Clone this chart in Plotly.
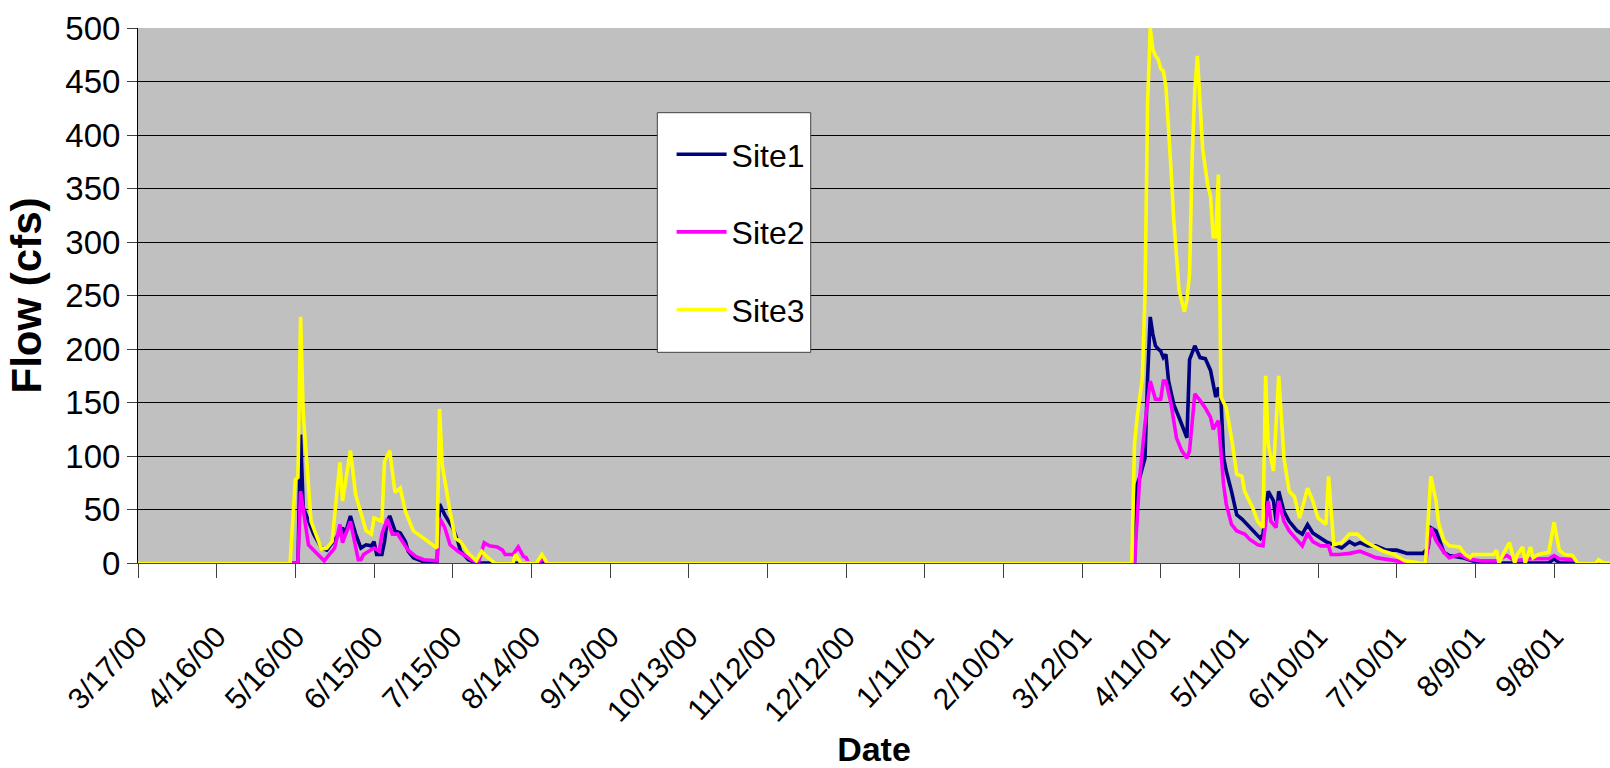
import plotly.graph_objects as go

# ---------------- data ----------------
site1_dates = [
    "2000-03-17", "2000-05-17", "2000-05-18", "2000-05-19", "2000-05-23", "2000-05-26", "2000-05-28",
    "2000-06-01", "2000-06-03", "2000-06-04", "2000-06-06", "2000-06-08", "2000-06-10", "2000-06-12",
    "2000-06-14", "2000-06-15", "2000-06-16", "2000-06-18", "2000-06-19", "2000-06-20", "2000-06-21",
    "2000-06-23", "2000-06-25", "2000-06-27", "2000-06-28", "2000-06-30", "2000-07-03", "2000-07-05",
    "2000-07-09", "2000-07-10", "2000-07-12", "2000-07-15", "2000-07-17", "2000-07-18", "2000-07-21",
    "2000-07-24", "2001-04-01", "2001-04-02", "2001-04-03", "2001-04-05", "2001-04-06", "2001-04-07",
    "2001-04-08", "2001-04-09", "2001-04-10", "2001-04-11", "2001-04-12", "2001-04-13", "2001-04-14",
    "2001-04-15", "2001-04-16", "2001-04-18", "2001-04-20", "2001-04-21", "2001-04-22", "2001-04-24",
    "2001-04-26", "2001-04-28", "2001-04-30", "2001-05-02", "2001-05-03", "2001-05-04", "2001-05-05",
    "2001-05-06", "2001-05-08", "2001-05-10", "2001-05-12", "2001-05-14", "2001-05-16", "2001-05-19",
    "2001-05-20", "2001-05-22", "2001-05-24", "2001-05-25", "2001-05-26", "2001-05-28", "2001-05-30",
    "2001-06-02", "2001-06-04", "2001-06-06", "2001-06-08", "2001-06-11", "2001-06-13", "2001-06-17",
    "2001-06-19", "2001-06-22", "2001-06-24", "2001-06-26", "2001-06-29", "2001-07-02", "2001-07-06",
    "2001-07-10", "2001-07-14", "2001-07-20", "2001-07-22", "2001-07-23", "2001-07-25", "2001-07-28",
    "2001-07-30", "2001-08-04", "2001-08-08", "2001-08-15", "2001-09-06", "2001-09-08", "2001-09-10",
    "2001-09-25",
]
site1_flow = [
    0, 0, 120, 52, 27, 14, 12,
    25, 33, 27, 44, 27, 14, 17,
    16, 20, 8, 8, 20, 39, 44,
    30, 28, 20, 11, 5, 2, 0,
    0, 55, 45, 33, 20, 11, 3,
    0, 0, 73, 80, 98, 173, 230,
    214, 203, 200, 198, 192, 195, 170,
    158, 148, 136, 123, 117, 190, 203,
    192, 191, 180, 155, 164, 152, 98,
    86, 67, 45, 41, 36, 31, 23,
    27, 67, 58, 39, 67, 48, 39,
    30, 27, 36, 28, 23, 20, 16,
    14, 20, 17, 19, 16, 16, 12,
    12, 9, 9, 14, 33, 30, 10,
    7, 5, 2, 0, 0, 4, 0,
    0,
]

site2_dates = [
    "2000-03-17", "2000-05-17", "2000-05-18", "2000-05-19", "2000-05-21", "2000-05-23", "2000-05-26",
    "2000-05-27", "2000-05-29", "2000-05-31", "2000-06-02", "2000-06-03", "2000-06-06", "2000-06-08",
    "2000-06-09", "2000-06-10", "2000-06-11", "2000-06-13", "2000-06-15", "2000-06-17", "2000-06-18",
    "2000-06-20", "2000-06-22", "2000-06-24", "2000-06-26", "2000-06-28", "2000-07-01", "2000-07-04",
    "2000-07-09", "2000-07-10", "2000-07-12", "2000-07-14", "2000-07-17", "2000-07-19", "2000-07-23",
    "2000-07-25", "2000-07-27", "2000-07-29", "2000-08-01", "2000-08-03", "2000-08-04", "2000-08-07",
    "2000-08-09", "2000-08-11", "2000-08-12", "2000-08-13", "2000-08-17", "2000-08-18", "2000-08-20",
    "2001-04-01", "2001-04-03", "2001-04-05", "2001-04-07", "2001-04-09", "2001-04-11", "2001-04-12",
    "2001-04-13", "2001-04-15", "2001-04-16", "2001-04-17", "2001-04-19", "2001-04-21", "2001-04-22",
    "2001-04-24", "2001-04-26", "2001-04-28", "2001-04-30", "2001-05-01", "2001-05-03", "2001-05-05",
    "2001-05-06", "2001-05-08", "2001-05-10", "2001-05-13", "2001-05-15", "2001-05-18", "2001-05-20",
    "2001-05-22", "2001-05-23", "2001-05-25", "2001-05-26", "2001-05-28", "2001-05-30", "2001-06-02",
    "2001-06-04", "2001-06-06", "2001-06-08", "2001-06-11", "2001-06-14", "2001-06-15", "2001-06-18",
    "2001-06-22", "2001-06-26", "2001-06-29", "2001-07-02", "2001-07-10", "2001-07-15", "2001-07-21",
    "2001-07-23", "2001-07-25", "2001-07-28", "2001-07-30", "2001-08-03", "2001-08-06", "2001-08-11",
    "2001-08-17", "2001-08-21", "2001-08-24", "2001-08-30", "2001-09-06", "2001-09-08", "2001-09-10",
    "2001-09-16", "2001-09-17", "2001-09-25",
]
site2_flow = [
    0, 0, 67, 52, 17, 12, 5,
    2, 8, 14, 36, 19, 39, 14,
    3, 3, 8, 11, 14, 11, 27,
    41, 27, 27, 19, 12, 6, 3,
    2, 42, 33, 17, 11, 8, 2,
    2, 19, 16, 15, 12, 8, 8,
    15, 6, 5, 0, 0, 5, 0,
    0, 80, 130, 170, 153, 153, 170,
    170, 148, 130, 117, 105, 98, 105,
    158, 152, 145, 136, 125, 133, 73,
    55, 36, 30, 27, 22, 17, 16,
    58, 39, 33, 58, 39, 30, 22,
    16, 28, 20, 16, 16, 8, 8,
    9, 11, 8, 5, 2, 0, 0,
    33, 21, 10, 5, 8, 4, 2,
    2, 7, 2, 4, 4, 7, 4,
    3, 0, 0,
]

site3_dates = [
    "2000-03-17", "2000-05-14", "2000-05-16", "2000-05-17", "2000-05-18", "2000-05-19", "2000-05-22",
    "2000-05-26", "2000-05-28", "2000-05-30", "2000-06-02", "2000-06-03", "2000-06-06", "2000-06-08",
    "2000-06-12", "2000-06-14", "2000-06-15", "2000-06-18", "2000-06-19", "2000-06-21", "2000-06-23",
    "2000-06-25", "2000-06-27", "2000-06-30", "2000-07-04", "2000-07-08", "2000-07-09", "2000-07-10",
    "2000-07-11", "2000-07-14", "2000-07-16", "2000-07-18", "2000-07-21", "2000-07-24", "2000-07-26",
    "2000-07-28", "2000-07-31", "2000-08-07", "2000-08-08", "2000-08-10", "2000-08-16", "2000-08-18",
    "2000-08-20", "2001-03-31", "2001-04-01", "2001-04-02", "2001-04-04", "2001-04-05", "2001-04-06",
    "2001-04-07", "2001-04-08", "2001-04-09", "2001-04-10", "2001-04-11", "2001-04-12", "2001-04-13",
    "2001-04-14", "2001-04-15", "2001-04-16", "2001-04-17", "2001-04-18", "2001-04-20", "2001-04-21",
    "2001-04-22", "2001-04-23", "2001-04-24", "2001-04-25", "2001-04-26", "2001-04-27", "2001-04-29",
    "2001-04-30", "2001-05-01", "2001-05-02", "2001-05-03", "2001-05-04", "2001-05-06", "2001-05-08",
    "2001-05-10", "2001-05-12", "2001-05-13", "2001-05-15", "2001-05-16", "2001-05-18", "2001-05-20",
    "2001-05-21", "2001-05-22", "2001-05-24", "2001-05-26", "2001-05-28", "2001-05-30", "2001-06-01",
    "2001-06-03", "2001-06-06", "2001-06-08", "2001-06-10", "2001-06-13", "2001-06-14", "2001-06-16",
    "2001-06-19", "2001-06-22", "2001-06-25", "2001-06-28", "2001-07-01", "2001-07-05", "2001-07-09",
    "2001-07-13", "2001-07-19", "2001-07-21", "2001-07-23", "2001-07-25", "2001-07-26", "2001-07-28",
    "2001-07-30", "2001-08-03", "2001-08-05", "2001-08-07", "2001-08-08", "2001-08-16", "2001-08-17",
    "2001-08-18", "2001-08-20", "2001-08-22", "2001-08-24", "2001-08-25", "2001-08-27", "2001-08-28",
    "2001-08-30", "2001-08-31", "2001-09-02", "2001-09-06", "2001-09-08", "2001-09-10", "2001-09-12",
    "2001-09-15", "2001-09-17", "2001-09-24", "2001-09-25", "2001-09-27", "2001-09-30",
]
site3_flow = [
    0, 0, 78, 80, 230, 140, 39,
    13, 14, 20, 94, 58, 105, 64,
    30, 27, 42, 39, 95, 105, 66,
    70, 48, 30, 23, 15, 14, 144,
    92, 48, 23, 20, 9, 2, 11,
    6, 0, 0, 8, 0, 0, 8,
    0, 0, 111, 136, 173, 250, 430,
    500, 480, 474, 471, 462, 460, 445,
    410, 365, 320, 285, 255, 235, 246,
    270, 380, 443, 474, 430, 387, 352,
    343, 305, 305, 363, 155, 145, 117,
    83, 81, 67, 58, 52, 39, 33,
    175, 111, 86, 175, 98, 67, 62,
    42, 70, 58, 42, 36, 81, 17,
    19, 27, 27, 20, 16, 11, 8,
    2, 0, 0, 81, 58, 37, 21,
    16, 15, 8, 5, 8, 8, 12,
    0, 10, 19, 0, 8, 15, 0,
    15, 5, 8, 10, 38, 12, 8,
    7, 0, 0, 3, 0, 0,
]

series_names = ["Site1", "Site2", "Site3"]
series_colors = ["#000080", "#FF00FF", "#FFFF00"]

tick_dates = [
    "2000-03-17", "2000-04-16", "2000-05-16", "2000-06-15", "2000-07-15", "2000-08-14",
    "2000-09-13", "2000-10-13", "2000-11-12", "2000-12-12", "2001-01-11", "2001-02-10",
    "2001-03-12", "2001-04-11", "2001-05-11", "2001-06-10", "2001-07-10", "2001-08-09",
    "2001-09-08",
]
tick_labels = [
    "3/17/00", "4/16/00", "5/16/00", "6/15/00", "7/15/00", "8/14/00",
    "9/13/00", "10/13/00", "11/12/00", "12/12/00", "1/11/01", "2/10/01",
    "3/12/01", "4/11/01", "5/11/01", "6/10/01", "7/10/01", "8/9/01",
    "9/8/01",
]
y_ticks = [0, 50, 100, 150, 200, 250, 300, 350, 400, 450, 500]

FONT = "Liberation Sans, Arial, sans-serif"

fig = go.Figure()
all_x = [site1_dates, site2_dates, site3_dates]
all_y = [site1_flow, site2_flow, site3_flow]
for name, color, xs, ys in zip(series_names, series_colors, all_x, all_y):
    fig.add_trace(go.Scatter(
        x=xs, y=ys, mode="lines", name=name, legendgroup=name,
        line=dict(color=color, width=3.6),
        hoverinfo="skip",
    ))

fig.update_layout(
    width=1610, height=768,
    margin=dict(l=138, r=0, t=28, b=205, pad=0, autoexpand=False),
    paper_bgcolor="white",
    plot_bgcolor="#C0C0C0",
    font=dict(family=FONT, color="black"),
    showlegend=True,
    legend=dict(
        x=0.3625, y=0.815, xanchor="left", yanchor="top",
        bgcolor="rgba(0,0,0,0)", borderwidth=0,
        font=dict(family=FONT, size=32, color="black"),
        tracegroupgap=33, itemwidth=50,
    ),
    shapes=[dict(
        type="rect", xref="paper", yref="paper",
        x0=0.3528, x1=0.4570, y0=0.3938, y1=0.8417,
        fillcolor="white", line=dict(color="#404040", width=1), layer="above",
    )],
)

fig.update_xaxes(
    type="date", automargin=False,
    range=["2000-03-17", "2001-09-29 08:00"],
    tickmode="array", tickvals=tick_dates, ticktext=tick_labels,
    tickangle=-47, tickfont=dict(family=FONT, size=30, color="black"),
    ticks="outside", ticklen=14, tickcolor="#404040", tickwidth=1,
    ticklabelstandoff=29,
    showgrid=False, zeroline=False,
    showline=True, linecolor="#404040", linewidth=1,
    title=dict(text="<b>Date</b>", font=dict(family=FONT, size=34, color="black"), standoff=19),
)
fig.update_yaxes(
    automargin=False,
    range=[0, 500], tickmode="array", tickvals=y_ticks,
    tickfont=dict(family=FONT, size=33, color="black"),
    ticks="outside", ticklen=10, tickcolor="#404040", tickwidth=1,
    showgrid=True, gridcolor="#000000", gridwidth=1,
    zeroline=False,
    showline=True, linecolor="#000000", linewidth=1,
    title=dict(text="<b>Flow (cfs)</b>", font=dict(family=FONT, size=42, color="black"), standoff=10),
)

fig.write_html("out.html")
